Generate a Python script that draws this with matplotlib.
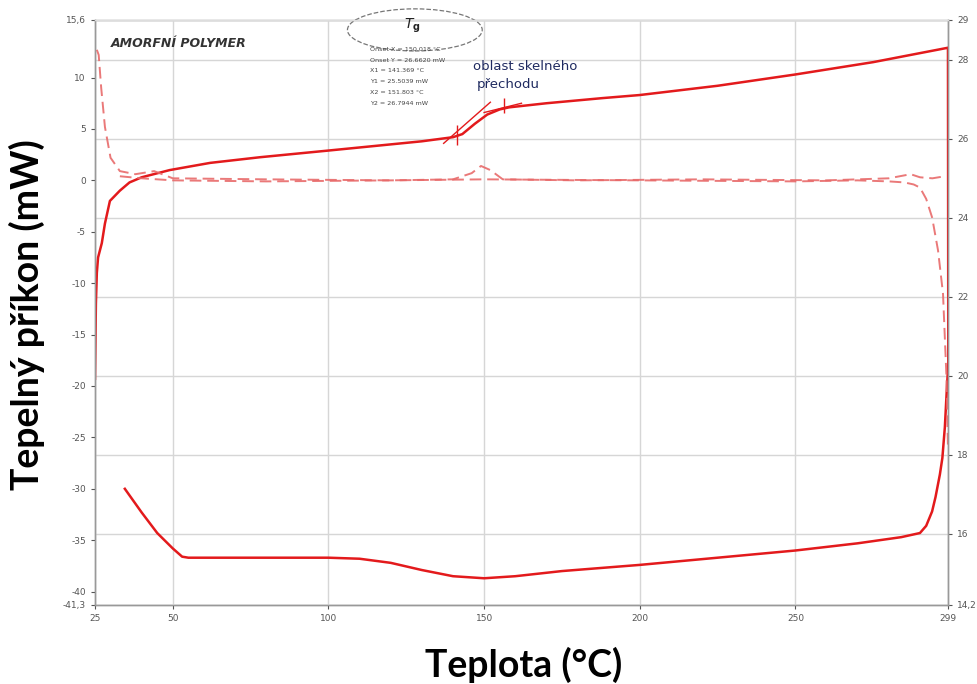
import matplotlib.pyplot as plt
from matplotlib.patches import Ellipse

# heating curve (solid, upper)
heat_t = [25.0, 25.3, 25.6, 26.0, 27.2, 28.2, 29.8, 33.0, 36.1, 40, 49, 62, 78, 100, 110,
          130, 140, 143, 147, 151, 155, 158, 170, 188, 200, 225, 250, 275, 299, 299.1]
heat_p = [-19.3, -12.0, -9.0, -7.5, -6.1, -4.2, -2.0, -1.0, -0.2, 0.3, 1.0, 1.7, 2.25, 2.9, 3.2,
          3.8, 4.2, 4.5, 5.5, 6.4, 6.9, 7.1, 7.5, 8.0, 8.3, 9.2, 10.3, 11.5, 12.9, -18.0]

# cooling curve (solid, lower)
cool_t = [299.1, 298.7, 298.0, 297.2, 296.4, 295.0, 293.9, 292.0, 290.0, 284, 270, 250, 225,
          200, 175, 160, 150, 140, 130, 120, 110, 100, 80, 55, 53, 50, 45, 40, 34.6]
cool_p = [-18.0, -19.9, -24.0, -27.0, -28.6, -30.8, -32.2, -33.6, -34.3, -34.7, -35.3, -36.0,
          -36.7, -37.4, -38.0, -38.5, -38.7, -38.5, -37.9, -37.2, -36.8, -36.7, -36.7, -36.7,
          -36.6, -35.8, -34.3, -32.3, -30.0]

# derivative-like dashed traces
dash1_t = [25.6, 26.2, 27.0, 28.2, 30.0, 33.0, 38, 44, 50, 80, 120, 140, 146, 149, 152, 156,
           180, 220, 260, 280, 287, 290, 294, 298.0]
dash1_p = [12.7, 12.2, 9.0, 5.2, 2.2, 0.9, 0.6, 0.9, 0.2, 0.1, 0.0, 0.1, 0.7, 1.4, 1.0, 0.1,
           0.0, 0.1, 0.0, 0.2, 0.6, 0.3, 0.2, 0.4]
dash2_t = [33.0, 40, 50, 80, 120, 150, 200, 250, 270, 280, 285, 288, 290, 292, 293.9, 295.8,
           297.4, 298.5, 299.0]
dash2_p = [0.4, 0.2, 0.0, -0.1, 0.0, 0.1, 0.0, -0.1, 0.0, -0.1, -0.2, -0.4, -0.7, -1.8, -3.6,
           -6.8, -11.0, -19.0, -26.0]

x_ticks = [25, 50, 100, 150, 200, 250, 299]
left_ticks = [15.6, 10, 5, 0, -5, -10, -15, -20, -25, -30, -35, -40, -41.3]
right_ticks = [14.2, 16, 18, 20, 22, 24, 26, 28, 29]

tg_lines = ['Onset X = 150.018 °C', 'Onset Y = 26.6620 mW', 'X1 = 141.369 °C',
            'Y1 = 25.5039 mW', 'X2 = 151.803 °C', 'Y2 = 26.7944 mW']


def lab(v):
    return ('%g' % v).replace('.', ',')


fig = plt.figure(figsize=(9.78, 6.84), dpi=100)
ax = fig.add_axes([0.0971, 0.1155, 0.8722, 0.8553])
ax2 = ax.twinx()
ax.set_zorder(ax2.get_zorder() + 1)
ax.patch.set_visible(False)

ax.set_xlim(25, 299)
ax.set_ylim(-41.3, 15.6)
ax2.set_ylim(14.2, 29)

red = '#e31a1c'
ax.plot(heat_t, heat_p, color=red, lw=1.8, solid_joinstyle='round')
ax.plot(cool_t, cool_p, color=red, lw=1.8)
ax.plot(dash1_t, dash1_p, color='#e86a6a', lw=1.4, ls=(0, (6, 3)), alpha=0.9)
ax.plot(dash2_t, dash2_p, color='#e86a6a', lw=1.4, ls=(0, (6, 3)), alpha=0.9)

# glass transition tangents and markers
ax.plot([137, 152], [3.6, 7.6], color=red, lw=1.0)
ax.plot([150, 162], [6.6, 7.5], color=red, lw=1.0)
ax.vlines([141.4, 156.5], [3.4, 6.6], [5.4, 8.0], color=red, lw=1.0)

ax.set_xticks(x_ticks)
ax.set_xticklabels([str(v) for v in x_ticks])
ax.set_yticks(left_ticks)
ax.set_yticklabels([lab(v) for v in left_ticks])
ax2.set_yticks(right_ticks)
ax2.set_yticklabels([lab(v) for v in right_ticks])

for a in (ax, ax2):
    a.tick_params(labelsize=6.5, colors='#555555', length=3, width=0.8)
    for s in a.spines.values():
        s.set_color('#999999')
        s.set_linewidth(1.0)
ax.spines['top'].set_color('#dddddd')

ax.grid(axis='x', color='#d6d6d6', lw=1.0)
ax2.grid(axis='y', color='#d6d6d6', lw=1.0)

ax.set_xlabel('Teplota (°C)', fontsize=27, fontweight='bold', family='Lato')
ax.set_ylabel('Tepelný příkon (mW)', fontsize=27, fontweight='bold', family='Lato')
ax.xaxis.set_label_coords(0.502, -0.072)
ax.yaxis.set_label_coords(-0.058, 0.496)

ax.text(0.018, 0.96, 'AMORFNÍ POLYMER', transform=ax.transAxes, fontsize=9,
        fontweight='bold', style='italic', color='#333333', va='center')

ell = Ellipse((0.375, 0.983), 0.158, 0.072, transform=ax.transAxes, fill=False,
              ls='--', lw=0.9, edgecolor='#777777', clip_on=False)
ax.add_patch(ell)
ax.text(0.372, 0.99, r'$\mathbf{\mathit{T}_g}$', transform=ax.transAxes, fontsize=10,
        ha='center', va='center', color='#222222')
for i, s in enumerate(tg_lines):
    ax.text(0.322, 0.95 - i * 0.0185, s, transform=ax.transAxes, fontsize=4.6,
            color='#444444', va='center')

ax.text(0.443, 0.92, 'oblast skelného', transform=ax.transAxes, fontsize=9.5,
        color='#1f2a60', va='center')
ax.text(0.448, 0.889, 'přechodu', transform=ax.transAxes, fontsize=9.5,
        color='#1f2a60', va='center')

fig.savefig('out.png', dpi=100)
